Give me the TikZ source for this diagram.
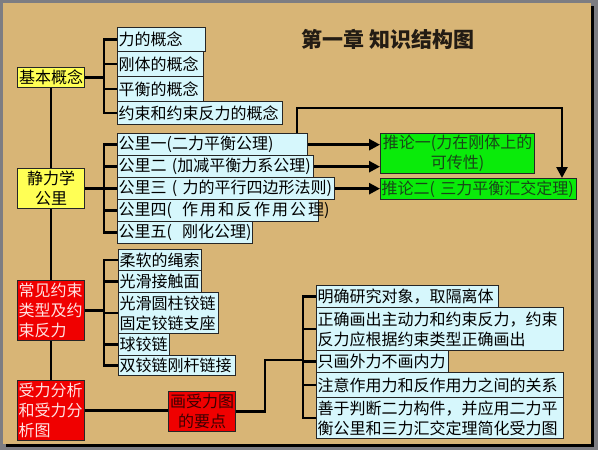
\documentclass[tikz,border=0pt]{standalone}
\usepackage{fontspec}
\newfontfamily\cjk{Noto Sans CJK SC}
\usetikzlibrary{arrows.meta,backgrounds,calc}
\definecolor{parch}{RGB}{216,181,118}
\definecolor{framegray}{RGB}{125,125,130}
\definecolor{lcyan}{RGB}{214,247,252}
\definecolor{yel}{RGB}{255,255,85}
\definecolor{grn}{RGB}{10,235,10}
\definecolor{rd}{RGB}{240,0,0}
\definecolor{pinkw}{RGB}{255,225,225}
\definecolor{dgreen}{RGB}{25,70,25}
\definecolor{darkred}{RGB}{60,0,0}
\definecolor{titlec}{RGB}{35,28,20}
\begin{document}
\begin{tikzpicture}[x=1pt,y=-1pt,
  base/.style={draw=black!85, line width=1.3pt, anchor=north west, inner xsep=1pt, inner ysep=0pt,
    font=\cjk\fontsize{16}{20}\selectfont},
  cbox/.style={base, fill=lcyan, align=left},
  ybox/.style={base, fill=yel, align=center, text width=65pt},
  rbox/.style={base, fill=rd, text=pinkw, align=left, text width=65pt},
  gbox/.style={base, fill=grn, text=dgreen},
  conn/.style={line width=2.6pt, black, line cap=rect, line join=miter},
  arr/.style={line width=2.6pt, black, line join=miter, -{Triangle[length=11pt,width=11pt]}}
]
\useasboundingbox (0,0) rectangle (598,450);
\begin{scope}[on background layer]
  \fill[framegray] (0,0) rectangle (598,450);
  \fill[black] (6,6) rectangle (594,447);
  \fill[parch] (3,3) rectangle (591,444);
\end{scope}

% title
\node[font=\cjk\fontsize{21}{21}\selectfont\bfseries, text=titlec] (title) at (388,39) {第一章 知识结构图};

% left column
\node[ybox, minimum height=20pt] (jb) at (17,67) {基本概念};
\node[ybox, minimum height=40pt] (jl) at (17,168) {静力学\\公里};
\node[rbox, minimum height=60pt] (cy) at (17,280) {常见约束\\类型及约\\束反力};
\node[rbox, minimum height=60pt] (sf) at (17,380) {受力分析\\和受力分\\析图};
\node[rbox, text=darkred, align=center, minimum height=40pt] (hs) at (168,391) {画受力图\\的要点};

% group 1
\node[cbox, text width=86pt, minimum height=24pt] (c11) at (117,27) {力的概念};
\node[cbox, text width=84pt, minimum height=25pt] (c12) at (117,51) {刚体的概念};
\node[cbox, text width=84pt, minimum height=25pt] (c13) at (117,76) {平衡的概念};
\node[cbox, text width=163pt, minimum height=23pt] (c14) at (117,101) {约束和约束反力的概念};

% group 2
\node[cbox, text width=188pt, minimum height=22pt] (g1) at (117,133) {公里一(二力平衡公理)};
\node[cbox, text width=194pt, minimum height=22pt] (g2) at (117,155) {公里二 (加减平衡力系公理)};
\node[cbox, text width=215pt, minimum height=22pt] (g3) at (117,177) {公里三 ( 力的平行四边形法则)};
\node[cbox, text width=199pt, minimum height=22pt] (g4) at (117,199) {公里四(\kern10pt 作\kern2pt 用\kern2pt 和\kern2pt 反\kern2pt 作\kern2pt 用\kern2pt 公\kern2pt 理)};
\node[cbox, text width=133pt, minimum height=22pt] (g5) at (117,221) {公里五(\kern10pt 刚化公理)};

% corollaries
\node[gbox, align=center, text width=152pt, minimum height=40pt] (t1) at (380,133) {推论一(力在刚体上的\\可传性)};
\node[gbox, align=left, text width=194pt, minimum height=21pt] (t2) at (380,178) {推论二( 三力平衡汇交定理)};

% group 3
\node[cbox, text width=81pt, minimum height=21pt] (c31) at (118,249) {柔软的绳索};
\node[cbox, text width=81pt, minimum height=22pt] (c32) at (118,270) {光滑接触面};
\node[cbox, text width=98pt, minimum height=41pt] (c33) at (118,292) {光滑圆柱铰链\\固定铰链支座};
\node[cbox, text width=49pt, minimum height=22pt] (c34) at (118,333) {球铰链};
\node[cbox, text width=115pt, minimum height=20pt] (c35) at (118,355) {双铰链刚杆链接};

% group 4
\node[cbox, text width=180pt, minimum height=22pt] (d1) at (316,285) {明确研究对象，取隔离体};
\node[cbox, text width=245pt, minimum height=43pt] (d2) at (316,307) {正确画出主动力和约束反力，约束\\反力应根据约束类型正确画出};
\node[cbox, text width=130pt, minimum height=22pt] (d3) at (316,350) {只画外力不画内力};
\node[cbox, text width=245pt, minimum height=25pt] (d4) at (316,372) {注意作用力和反作用力之间的关系};
\node[cbox, text width=245pt, minimum height=41pt] (d5) at (316,397) {善于判断二力构件，并应用二力平\\衡公里和三力汇交定理简化受力图};

\coordinate (bx1) at (104,0);
\coordinate (bx4) at (303,0);
\coordinate (elb) at (265,360);
\coordinate (tl) at (297,108);
\coordinate (tr) at (562,108);

\begin{scope}[on background layer]
  % main spine
  \draw[conn] (jb.south) -- (sf.north);
  % group 1
  \draw[conn] (jb.east) -- (jb.east -| bx1);
  \draw[conn] (bx1 |- c11.west) -- (bx1 |- c14.west);
  \foreach \n in {c11,c12,c13,c14} \draw[conn] (bx1 |- \n.west) -- (\n.west);
  % group 2
  \draw[conn] (jl.east) -- (jl.east -| bx1);
  \draw[conn] (bx1 |- g1.west) -- (bx1 |- g5.west);
  \foreach \n in {g1,g2,g3,g4,g5} \draw[conn] (bx1 |- \n.west) -- (\n.west);
  % group 3
  \draw[conn] (cy.east) -- (cy.east -| bx1);
  \draw[conn] (bx1 |- c31.west) -- (bx1 |- c35.west);
  \foreach \n in {c31,c32,c33,c34,c35} \draw[conn] (bx1 |- \n.west) -- (\n.west);
  % group 4
  \draw[conn] (sf.east) -- (sf.east -| hs.west);
  \draw[conn] (hs.east) -| (elb) -- (elb -| bx4);
  \draw[conn] (bx4 |- d1.west) -- (bx4 |- d5.west);
  \foreach \n in {d1,d2,d3,d4,d5} \draw[conn] (bx4 |- \n.west) -- (\n.west);
  % arrows to corollaries
  \draw[arr] (g1.north -| tl) -- (tl) -- (tr) -- (tr |- t2.north);
  \draw[arr] (g1.east) -- (g1.east -| t1.west);
  \draw[arr] (g2.east) -- (g2.east -| t1.west);
  \draw[arr] (g3.east) -- (g3.east -| t2.west);
\end{scope}
\end{tikzpicture}
\end{document}
